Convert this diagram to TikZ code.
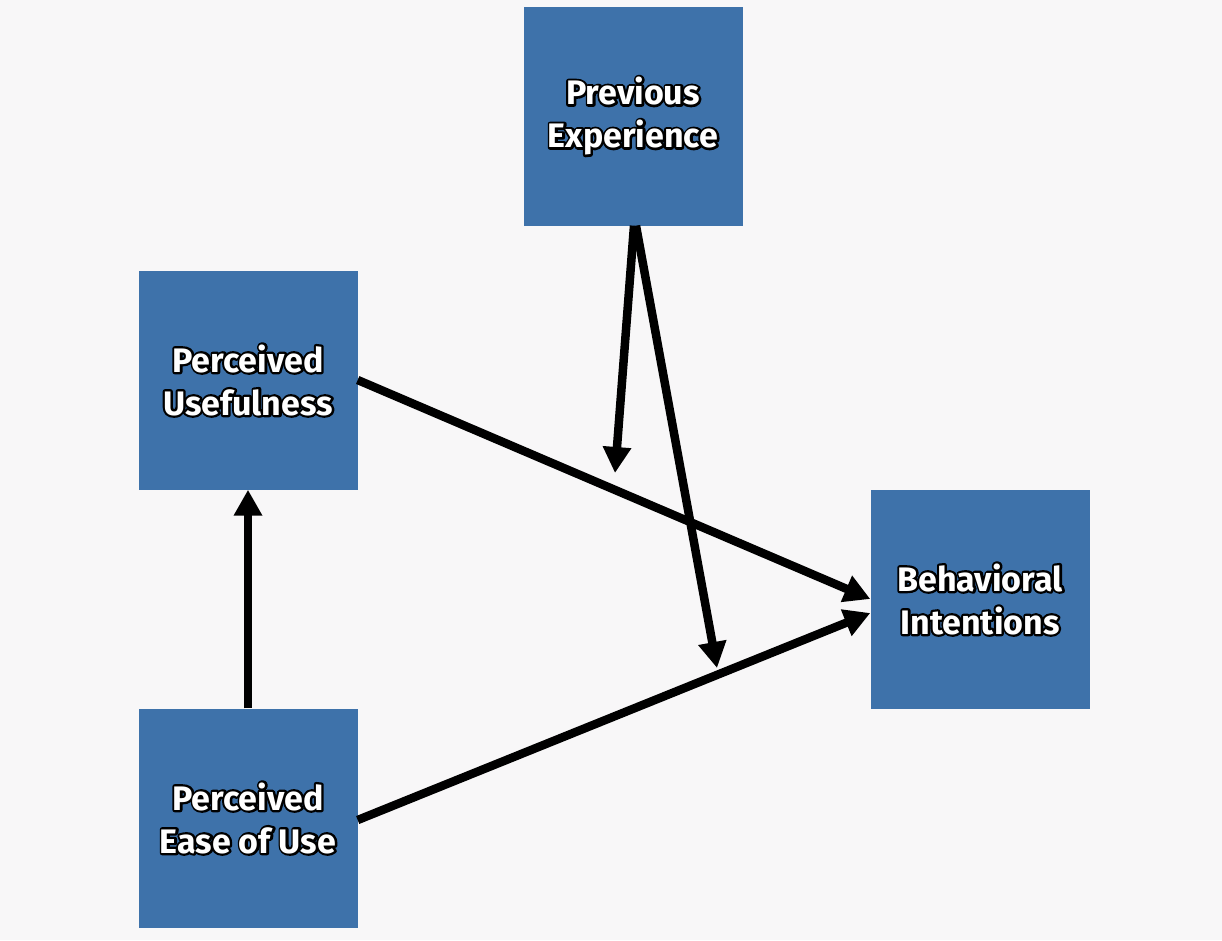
\documentclass[tikz,border=0pt]{standalone}
\usepackage{fontspec}
\setmainfont{Fira Sans}
\usetikzlibrary{arrows.meta}
\definecolor{boxblue}{RGB}{62,114,170}
\definecolor{paper}{RGB}{248,247,248}
\tikzset{
  factor/.style={fill=boxblue, minimum size=219pt, inner sep=0pt, align=center,
    font=\fontsize{34}{44}\selectfont\bfseries},
  link/.style={line width=8.5pt, -{Triangle[length=26pt,width=27pt]}}
}
% black rim stroked first, white letters filled on top
\newcommand{\boxtext}[1]{\rlap{\special{pdf:literal direct 1 Tr 0 G 4.5 w 1 j}#1\special{pdf:literal direct 0 Tr}}{\color{white}#1}}

\begin{document}
\begin{tikzpicture}[x=1pt,y=-1pt]
\fill[paper] (0,0) rectangle (1222,940);
\useasboundingbox (0,0) rectangle (1222,940);
% the four constructs
\node[factor] (exp) at (633,116) {\boxtext{Previous}\\[-1pt]\boxtext{Experience}};
\node[factor] (use) at (248,380) {\boxtext{Perceived}\\[-1pt]\boxtext{Usefulness}};
\node[factor] (ease) at (248,818) {\boxtext{Perceived}\\[-1pt]\boxtext{Ease of Use}};
\node[factor] (intent) at (980,599) {\boxtext{Behavioral}\\[-1pt]\boxtext{Intentions}};
% free ends of the moderating arrows
\coordinate (modu) at (615,473);
\coordinate (mode) at (717,668);
\draw[link] (ease.north) -- (use.south);
\draw[link] (use.east) -- (intent.west);
\draw[link] ([yshift=-2pt]ease.east) -- ([yshift=-14pt]intent.west);
\draw[link] ([xshift=1pt]exp.south) -- (modu);
\draw[link] ([xshift=3pt]exp.south) -- (mode);
\end{tikzpicture}
\end{document}
